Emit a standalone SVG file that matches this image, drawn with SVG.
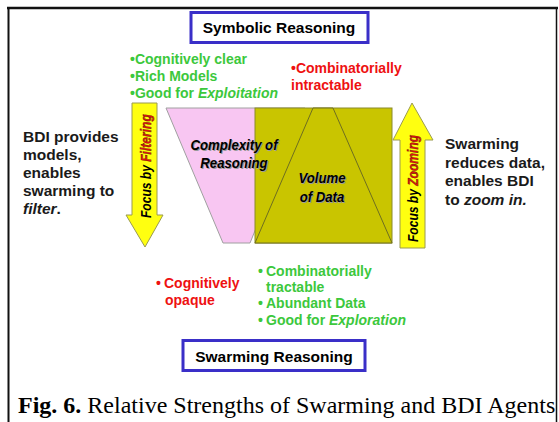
<svg xmlns="http://www.w3.org/2000/svg" width="559" height="422" viewBox="0 0 559 422">
  <style>
    .sans { font-family: "Liberation Sans", Arial, sans-serif; font-weight: bold; }
    .bi { font-family: "Liberation Sans", Arial, sans-serif; font-weight: bold; font-style: italic; }
    .green { fill: #3cc83c; font-size: 14px; }
    .red { fill: #ee1111; font-size: 14px; }
    .side { fill: #1a1a1a; font-size: 15.5px; }
    .title { fill: #000; font-size: 15.5px; }
    .box { fill: #fff; stroke: #3a2fc8; stroke-width: 3; }
    .arrow { fill: #ffff10; stroke: #9a9a50; stroke-width: 1; }
    .shadow { fill: #9a9a9a; }
    .caption { font-family: "Liberation Serif", "Times New Roman", serif; font-size: 24px; fill: #000; }
  </style>

  <rect x="0" y="0" width="559" height="422" fill="#fff"/>

  <!-- frame -->
  <g id="frame" fill="none" stroke="#111">
    <line x1="7" y1="8" x2="558" y2="8" stroke-width="2.5"/>
    <line x1="8.5" y1="8" x2="8.5" y2="422" stroke-width="2"/>
    <line x1="556.5" y1="8" x2="556.5" y2="422" stroke-width="1.5"/>
  </g>

  <!-- complexity of reasoning (pink funnel) -->
  <g id="complexity">
    <polygon points="166,108 305,108 250,243 223,243" fill="#f8c6f2" stroke="#a0a0a0" stroke-width="1"/>
  </g>

  <!-- volume of data (olive block with pyramid) -->
  <g id="volume">
    <rect x="255" y="108" width="137" height="135" fill="#c9c500" stroke="#8a8a2a" stroke-width="1"/>
    <polygon points="313,108 333,108 392,243 255,243" fill="#c9c500" stroke="#6e6e20" stroke-width="1"/>
  </g>
  <g id="labels-center" class="bi" font-size="15.5" text-anchor="middle">
    <g transform="translate(234,0) scale(0.85,1)">
      <text x="1.2" y="151" class="shadow">Complexity of</text>
      <text x="1.2" y="169" class="shadow">Reasoning</text>
      <text x="0" y="150">Complexity of</text>
      <text x="0" y="168">Reasoning</text>
    </g>
    <g transform="translate(322,0) scale(0.85,1)">
      <text x="1.2" y="184" class="shadow">Volume</text>
      <text x="1.2" y="203" class="shadow">of Data</text>
      <text x="0" y="183">Volume</text>
      <text x="0" y="202">of Data</text>
    </g>
  </g>

  <!-- focus arrows -->
  <g id="arrow-filter">
    <polygon class="arrow" points="132,103 157,103 157,215 163,215 145,247 126,215 132,215"/>
    <text class="bi" font-size="14.2" transform="translate(150.5,218) rotate(-90) scale(0.85,1)"><tspan fill="#000">Focus by </tspan><tspan fill="#e01010" stroke="#5a1a00" stroke-width="0.4">Filtering</tspan></text>
  </g>
  <g id="arrow-zoom">
    <polygon class="arrow" points="412,103 433,140 425,140 425,248 400,248 400,140 393,140"/>
    <text class="bi" font-size="14.2" transform="translate(417.5,242) rotate(-90) scale(0.85,1)"><tspan fill="#000">Focus by </tspan><tspan fill="#e01010" stroke="#5a1a00" stroke-width="0.4">Zooming</tspan></text>
  </g>

  <!-- title boxes -->
  <g id="symbolic">
    <rect class="box" x="191" y="12.5" width="177" height="30"/>
    <text class="sans title" x="279" y="33" text-anchor="middle">Symbolic Reasoning</text>
  </g>
  <g id="swarming">
    <rect class="box" x="183" y="340.5" width="182" height="30"/>
    <text class="sans title" x="274" y="362" text-anchor="middle">Swarming Reasoning</text>
  </g>

  <!-- symbolic strengths/weaknesses -->
  <g id="symbolic-notes" class="sans">
    <text class="green" x="130" y="64">•Cognitively clear</text>
    <text class="green" x="130" y="81">•Rich Models</text>
    <text class="green" x="130" y="98">•Good for <tspan font-style="italic">Exploitation</tspan></text>
    <text class="red" x="291" y="73">•Combinatorially</text>
    <text class="red" x="291" y="90">intractable</text>
  </g>

  <!-- swarming strengths/weaknesses -->
  <g id="swarming-notes" class="sans">
    <text class="red" x="156" y="288">•</text>
    <text class="red" x="164" y="288">Cognitively</text>
    <text class="red" x="165" y="305">opaque</text>
    <text class="green" x="258" y="276">•</text>
    <text class="green" x="266" y="276">Combinatorially</text>
    <text class="green" x="266" y="292">tractable</text>
    <text class="green" x="258" y="308">•</text>
    <text class="green" x="266" y="308">Abundant Data</text>
    <text class="green" x="258" y="325">•</text>
    <text class="green" x="266" y="325">Good for <tspan font-style="italic">Exploration</tspan></text>
  </g>

  <!-- side notes -->
  <g id="bdi-note" class="sans side">
    <text x="23" y="142">BDI provides</text>
    <text x="23" y="160">models,</text>
    <text x="23" y="178">enables</text>
    <text x="23" y="196">swarming to</text>
    <text x="23" y="214"><tspan font-style="italic">filter</tspan>.</text>
  </g>
  <g id="swarm-note" class="sans side">
    <text x="445" y="149">Swarming</text>
    <text x="445" y="167.5">reduces data,</text>
    <text x="445" y="186">enables BDI</text>
    <text x="445" y="204.5">to <tspan font-style="italic">zoom in.</tspan></text>
  </g>

  <!-- caption -->
  <text class="caption" x="18" y="413"><tspan font-weight="bold">Fig. 6.</tspan> Relative Strengths of Swarming and BDI Agents</text>
</svg>
